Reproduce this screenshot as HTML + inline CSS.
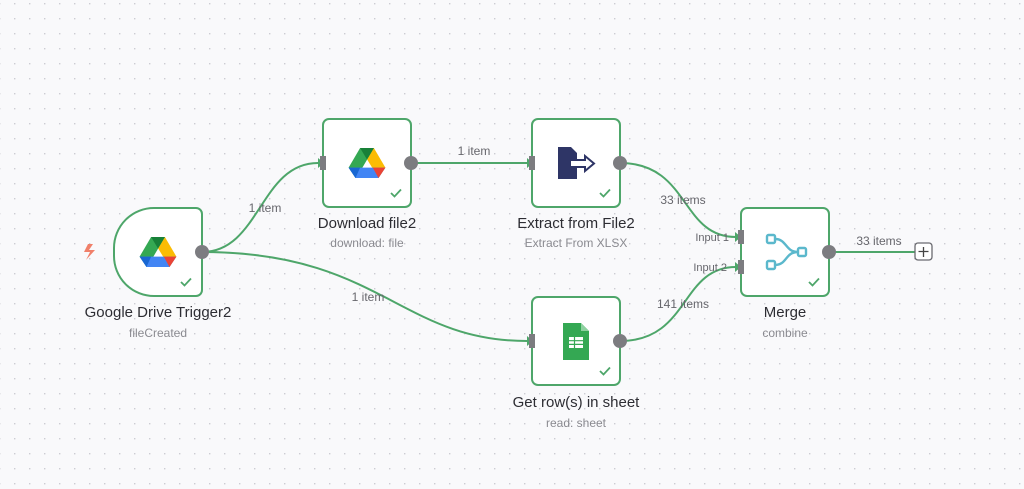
<!DOCTYPE html>
<html><head><meta charset="utf-8"><style>
html,body{margin:0;padding:0;width:1024px;height:489px;overflow:hidden;background:#f9f9fb;}
svg{display:block;font-family:"Liberation Sans",sans-serif;}
</style></head><body>
<svg width="1024" height="489" viewBox="0 0 1024 489">
<defs>
<pattern id="dots" x="14" y="3" width="15" height="15" patternUnits="userSpaceOnUse">
<rect x="0" y="0" width="1.4" height="1.4" fill="#ccccd3"/></pattern>
<g id="gd" transform="scale(1.15)">
<path d="M-6,-13 L6,-13 L16,4 L10,13 Z" fill="#fbbc04"/>
<path d="M-6,-13 L6,-13 L-4,4 L-10,13 L-16,4 Z" fill="#34a853"/>
<path d="M-16,4 L16,4 L10,13 L-10,13 Z" fill="#4285f4"/>
<path d="M10,13 L16,4 L5,4 Z" fill="#ea4335"/>
<path d="M-16,4 L-10,13 L-6,4 Z" fill="#1967d2"/>
<path d="M-6,-13 L0,-3 L6,-13Z" fill="#188038"/>
</g>
<g id="chk"><path d="M-5,0 L-1.5,3.5 L5,-3.5" fill="none" stroke="#4ea66a" stroke-width="1.8"/></g>
</defs>
<rect width="1024" height="489" fill="url(#dots)"/>
<g fill="none" stroke="#4ea66a" stroke-width="2">
<path d="M202,252 C260,252 260,163 318,163"/>
<path d="M202,252 C380,252 400,341 527,341"/>
<path d="M411,163 L527,163"/>
<path d="M620,163 C690,163 680,237 736,237"/>
<path d="M620,341 C690,341 680,267 736,267"/>
<path d="M829,252 L915,252"/>
</g>
<g fill="#4ea66a">
<path d="M318,158 L324,163 L318,168Z"/><path d="M527,158 L533,163 L527,168Z"/>
<path d="M527,336 L533,341 L527,346Z"/><path d="M735,232 L741,237 L735,242Z"/><path d="M735,262 L741,267 L735,272Z"/>
</g>
<g fill="#fff" stroke="#4ea66a" stroke-width="2">
<path d="M196,296 L154,296 A40,40 0 0 1 114,256 L114,248 A40,40 0 0 1 154,208 L196,208 A6,6 0 0 1 202,214 L202,290 A6,6 0 0 1 196,296 Z"/>
<rect x="323" y="119" width="88" height="88" rx="6"/>
<rect x="532" y="119" width="88" height="88" rx="6"/>
<rect x="532" y="297" width="88" height="88" rx="6"/>
<rect x="741" y="208" width="88" height="88" rx="6"/>
</g>
<g fill="#7c7c80">
<rect x="320" y="156" width="6" height="14"/><rect x="529" y="156" width="6" height="14"/>
<rect x="529" y="334" width="6" height="14"/><rect x="738" y="230" width="6" height="14"/><rect x="738" y="260" width="6" height="14"/>
<circle cx="202" cy="252" r="7"/><circle cx="411" cy="163" r="7"/><circle cx="620" cy="163" r="7"/><circle cx="620" cy="341" r="7"/><circle cx="829" cy="252" r="7"/>
</g>
<rect x="915" y="243" width="17" height="17" rx="3" fill="#fff" stroke="#6a6a70" stroke-width="1.3"/>
<path d="M923.5,247 v10 M918.5,251.5 h10" stroke="#444" stroke-width="1.3"/>
<use href="#gd" x="158" y="252"/><use href="#gd" x="367" y="163"/>
<use href="#chk" x="186" y="282"/><use href="#chk" x="396" y="193"/><use href="#chk" x="605" y="193"/><use href="#chk" x="605" y="371"/><use href="#chk" x="814" y="282"/>
<path d="M88,244 L84,252 L90,252 L86,260 L95,250 L89,250 L93,244Z" fill="#f0806a"/>
<!-- extract icon -->
<g fill="#2e3566"><path d="M558,147 L571,147 L577,153 L577,159 L569,159 L569,167 L577,167 L577,179 L558,179Z"/>
<path d="M570,160 L585,160 L585,156 L594,163.5 L585,171 L585,167 L570,167Z" fill="none" stroke="#2e3566" stroke-width="2"/></g>
<!-- sheets icon -->
<path d="M563,323 L581,323 L589,331 L589,360 L563,360Z" fill="#34a853"/>
<path d="M581,323 L589,331 L581,331Z" fill="#8ed1a0"/>
<g fill="#fff"><rect x="569" y="337" width="14" height="11"/></g>
<g stroke="#34a853" stroke-width="1.2"><path d="M569,340.7 h14 M569,344.4 h14 M574.5,337 v11"/></g>
<!-- merge icon -->
<g fill="none" stroke="#5bb8cc" stroke-width="2.4">
<rect x="767" y="235" width="8" height="8" rx="1.5"/><rect x="767" y="261" width="8" height="8" rx="1.5"/><rect x="798" y="248" width="8" height="8" rx="1.5"/>
<path d="M775,239 C787,239 785,252 798,252 M775,265 C787,265 785,252 798,252"/>
</g>
<g font-size="15" fill="#2d2d33" text-anchor="middle">
<text x="158" y="317">Google Drive Trigger2</text>
<text x="367" y="228">Download file2</text>
<text x="576" y="228">Extract from File2</text>
<text x="576" y="407">Get row(s) in sheet</text>
<text x="785" y="317">Merge</text>
</g>
<g font-size="12" fill="#8a8a90" text-anchor="middle">
<text x="158" y="337">fileCreated</text>
<text x="367" y="247">download: file</text>
<text x="576" y="247">Extract From XLSX</text>
<text x="576" y="427">read: sheet</text>
<text x="785" y="337">combine</text>
</g>
<g font-size="12" fill="#66666c" text-anchor="middle">
<text x="265" y="212">1 item</text>
<text x="474" y="155">1 item</text>
<text x="368" y="301">1 item</text>
<text x="683" y="204">33 items</text>
<text x="683" y="308">141 items</text>
<text x="879" y="245">33 items</text>
</g>
<g font-size="11" fill="#66666c" text-anchor="end">
<text x="729" y="241">Input 1</text><text x="727" y="271">Input 2</text>
</g>
</svg>
</body></html>
